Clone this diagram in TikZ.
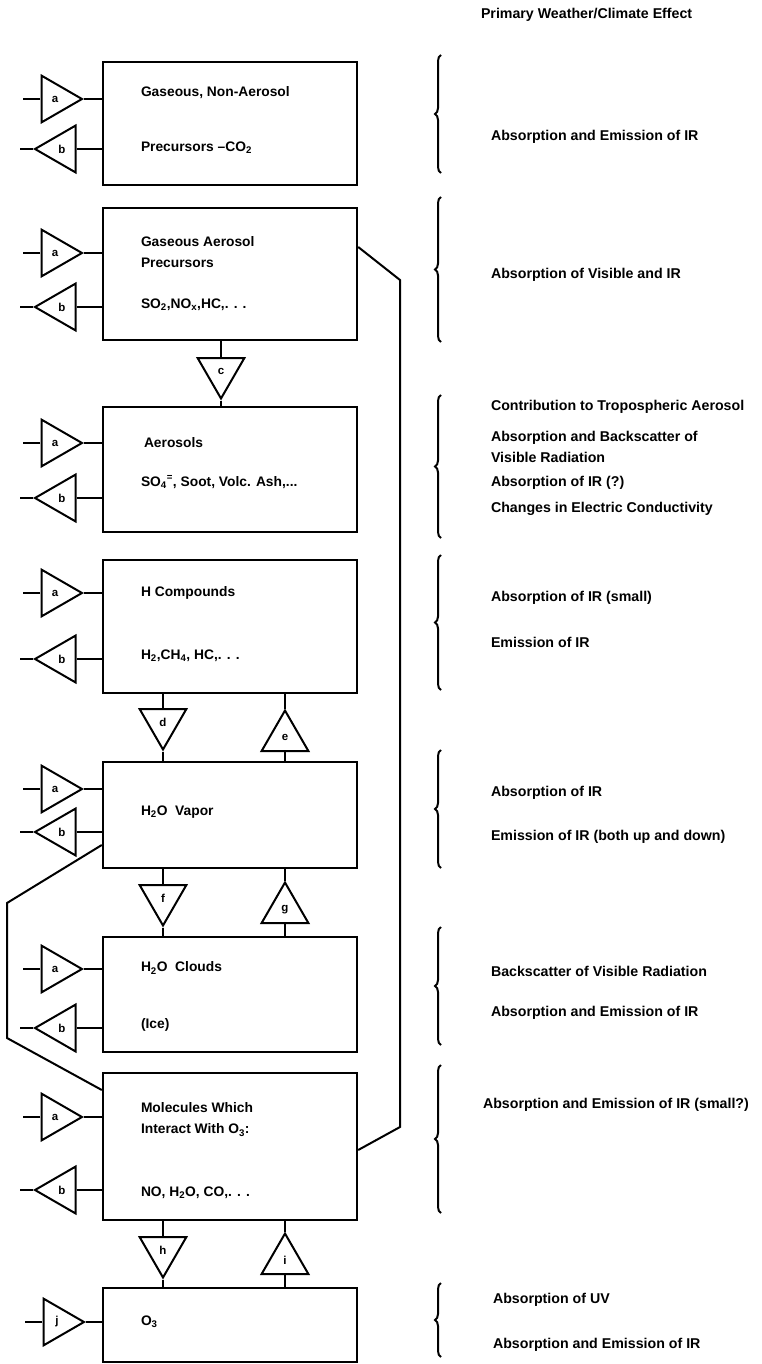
\documentclass[tikz,border=0pt]{standalone}
\usepackage{fontspec}
\setmainfont{Liberation Sans}
\usetikzlibrary{shapes.geometric,decorations.pathreplacing}

\begin{document}
\begin{tikzpicture}[x=1pt, y=-1pt, line width=2pt,
    box/.style={draw, line width=2.4pt, minimum width=254pt, inner sep=0pt},
    tri/.style={draw, regular polygon, regular polygon sides=3, minimum size=54pt, inner sep=0pt, font=\fontsize{11.5}{12}\selectfont\bfseries},
    tright/.style={tri, shape border rotate=-90},
    tleft/.style={tri, shape border rotate=90},
    tdown/.style={tri, shape border rotate=180},
    tup/.style={tri},
    lbl/.style={anchor=west, inner sep=0pt, font=\fontsize{13.8}{15}\selectfont\bfseries},
    eff/.style={anchor=west, inner sep=0pt, font=\fontsize{14.2}{16}\selectfont\bfseries},
    brc/.style={decorate, decoration={brace, amplitude=6pt}, line width=2pt}
  ]
  \useasboundingbox (0,0) rectangle (762,1364);

  % boxes
  \node[box, minimum height=123pt] (gas) at (230,123.5) {};
  \node[box, minimum height=132pt] (prec) at (230,274) {};
  \node[box, minimum height=125pt] (aer) at (230,469.5) {};
  \node[box, minimum height=133pt] (hcomp) at (230,626.5) {};
  \node[box, minimum height=106pt] (vap) at (230,815) {};
  \node[box, minimum height=115pt] (cld) at (230,994.5) {};
  \node[box, minimum height=147pt] (mol) at (230,1146.5) {};
  \node[box, minimum height=74pt] (ozone) at (230,1325) {};

  \node[lbl] (gas1) at (140,93) {Gaseous, Non-Aerosol};
  \node[lbl] (gas2) at (140,148) {Precursors --CO\textsubscript{2}};
  \node[lbl] (prec1) at (140,242) {Gaseous Aerosol};
  \node[lbl] (prec2) at (140,263) {Precursors};
  \node[lbl] (prec3) at (140,305) {SO\textsubscript{2},NO\textsubscript{x},HC,. . .};
  \node[lbl] (aer1) at (143,443) {Aerosols};
  \node[lbl] (aer2) at (140,482) {SO\textsubscript{4}\textsuperscript{=}, Soot, Volc. Ash,...};
  \node[lbl] (hcomp1) at (140,593) {H Compounds};
  \node[lbl] (hcomp2) at (140,656) {H\textsubscript{2},CH\textsubscript{4}, HC,. . .};
  \node[lbl] (vap1) at (140,812) {H\textsubscript{2}O\ \ Vapor};
  \node[lbl] (cld1) at (140,968) {H\textsubscript{2}O\ \ Clouds};
  \node[lbl] (cld2) at (140,1025) {(Ice)};
  \node[lbl] (mol1) at (140,1108) {Molecules Which};
  \node[lbl] (mol2) at (140,1130) {Interact With O\textsubscript{3}:};
  \node[lbl] (mol3) at (140,1193) {NO, H\textsubscript{2}O, CO,. . .};
  \node[lbl] (ozone1) at (140,1322) {O\textsubscript{3}};

  % inputs a / outputs b
  \foreach \bx/\ya/\yb in {gas/99/149, prec/253/307, aer/443/498, hcomp/593/659, vap/789/832, cld/969/1028, mol/1117/1190} {
    \node[tright] (\bx-a) at (55,\ya) {a};
    \node[tleft] (\bx-b) at (62,\yb) {b};
    \draw (\bx-a.west) -- ++(-17,0);
    \draw (\bx-a.east) -- (\bx-a.east -| \bx.west);
    \draw (\bx-b.west) -- ++(-13,0);
    \draw (\bx-b.east) -- (\bx-b.east -| \bx.west);
  }
  \node[tright] (ozone-j) at (57,1322) {j};
  \draw (ozone-j.west) -- ++(-17,0);
  \draw (ozone-j.east) -- (ozone-j.east -| ozone.west);

  % transfers between boxes
  \node[tdown] (c) at (221,371.5) {c};
  \node[tdown] (d) at (163,722.5) {d};
  \node[tup] (e) at (285,737.5) {e};
  \node[tdown] (f) at (163,898.5) {f};
  \node[tup] (g) at (285,909.5) {g};
  \node[tdown] (h) at (163,1250.5) {h};
  \node[tup] (i) at (285,1260.5) {i};
  \draw (c.north) -- (c.north |- prec.south);
  \draw (c.south) -- (c.south |- aer.north);
  \draw (d.north) -- (d.north |- hcomp.south);
  \draw (d.south) -- (d.south |- vap.north);
  \draw (e.north) -- (e.north |- hcomp.south);
  \draw (e.south) -- (e.south |- vap.north);
  \draw (f.north) -- (f.north |- vap.south);
  \draw (f.south) -- (f.south |- cld.north);
  \draw (g.north) -- (g.north |- vap.south);
  \draw (g.south) -- (g.south |- cld.north);
  \draw (h.north) -- (h.north |- mol.south);
  \draw (h.south) -- (h.south |- ozone.north);
  \draw (i.north) -- (i.north |- mol.south);
  \draw (i.south) -- (i.south |- ozone.north);

  \draw (prec.east |- 0,247) -- (400,280) -- (400,1127) -- (mol.east |- 0,1150);
  \draw (vap.west |- 0,845) -- (7,903) -- (7,1038) -- (mol.west |- 0,1090);

  % effects
  \node[eff] (title) at (480,15) {Primary Weather/Climate Effect};
  \draw[brc] (441,173) -- (441,55);
  \draw[brc] (441,342) -- (441,197);
  \draw[brc] (441,538) -- (441,395);
  \draw[brc] (441,690) -- (441,555);
  \draw[brc] (441,868) -- (441,750);
  \draw[brc] (441,1045) -- (441,927);
  \draw[brc] (441,1213) -- (441,1065);
  \draw[brc] (441,1357) -- (441,1283);
  \node[eff] (e1) at (490,137) {Absorption and Emission of IR};
  \node[eff] (e2) at (490,275) {Absorption of Visible and IR};
  \node[eff] (e3) at (490,407) {Contribution to Tropospheric Aerosol};
  \node[eff] (e4) at (490,438) {Absorption and Backscatter of};
  \node[eff] (e5) at (490,457) {Visible Radiation};
  \node[eff] (e6) at (490,483) {Absorption of IR (?)};
  \node[eff] (e7) at (490,509) {Changes in Electric Conductivity};
  \node[eff] (e8) at (490,598) {Absorption of IR (small)};
  \node[eff] (e9) at (490,642) {Emission of IR};
  \node[eff] (e10) at (490,793) {Absorption of IR};
  \node[eff] (e11) at (490,837) {Emission of IR (both up and down)};
  \node[eff] (e12) at (490,971) {Backscatter of Visible Radiation};
  \node[eff] (e13) at (490,1013) {Absorption and Emission of IR};
  \node[eff] (e14) at (482,1105) {Absorption and Emission of IR (small?)};
  \node[eff] (e15) at (492,1300) {Absorption of UV};
  \node[eff] (e16) at (492,1345) {Absorption and Emission of IR};
\end{tikzpicture}
\end{document}
